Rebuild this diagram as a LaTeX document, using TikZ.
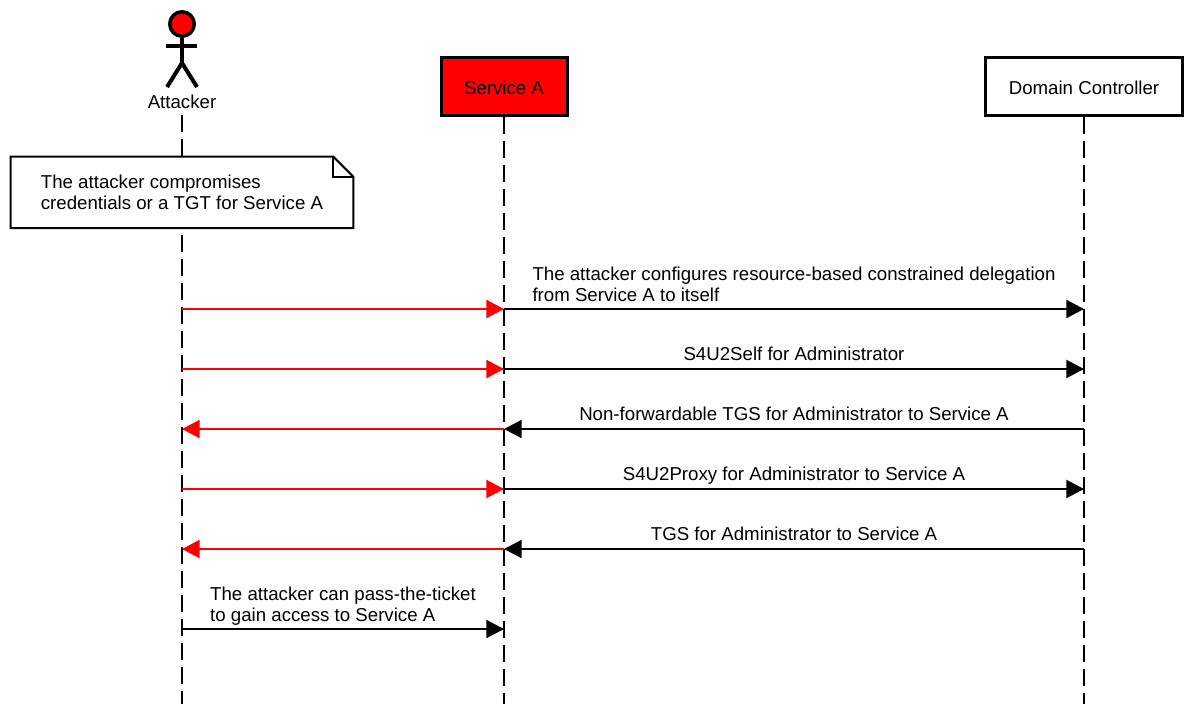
\documentclass[tikz,border=0pt]{standalone}
\usepackage{fontspec}
\setmainfont{Liberation Sans}
\usetikzlibrary{arrows.meta}
\tikzstyle{base}=[font=\fontsize{14}{15.75}\selectfont]
\tikzstyle{service}=[base,draw,line width=2.25pt,minimum height=43.5pt,inner sep=0pt,text height=13pt,text depth=0pt]
\tikzstyle{lifeline}=[draw,line width=1.5pt,dash pattern=on 12.75pt off 5.25pt]
\tikzstyle{limb}=[draw,line width=3pt]
\tikzstyle{message}=[draw,line width=1.5pt,-{Triangle[length=13.25pt,width=13.5pt]}]
\tikzstyle{msglabel}=[base,align=left,anchor=south,inner sep=0pt,text depth=0pt,yshift=6pt]
\tikzstyle{notebox}=[base,fill=white,align=left,inner sep=0pt,minimum width=256.5pt,minimum height=53.25pt]
\tikzstyle{noteline}=[draw,line width=1.5pt,line join=miter]

\begin{document}
\begin{tikzpicture}[x=0.75pt,y=-0.75pt]
    \useasboundingbox (0,0) rectangle (1192,704);

    % First we draw the actor and the two services
    \coordinate (neck) at (182,63);
    \coordinate (armL) at (166,46);
    \coordinate (armR) at (197,46);
    \coordinate (legL) at (167,87);
    \coordinate (legR) at (197,87);
    \node[circle,draw,fill=red,line width=2.6pt,minimum size=18.4pt,inner sep=0pt] (head) at (182,24) {};
    \path[limb] (head) -- (neck);
    \path[limb] (armL) -- (armR);
    \path[limb] (legL) -- (neck) -- (legR);
    \node[base] (attacker) at (182,102.3) {Attacker};
    \node[service,fill=red,minimum width=94.5pt] (serviceA) at (504,86) {Service A};
    \node[service,minimum width=147.75pt] (dc) at (1084,86) {Domain Controller};

    % Lifelines go down to the bottom edge
    \coordinate (attackerTop) at (182,115);
    \coordinate (attackerEnd) at (182,704);
    \coordinate (serviceEnd) at (504,704);
    \coordinate (dcEnd) at (1084,704);
    \path[lifeline] (attackerTop) -- (attackerEnd);
    \path[lifeline] (serviceA.south) -- (serviceEnd);
    \path[lifeline] (dc.south) -- (dcEnd);

    % The note sits on top of the attacker lifeline
    \node[notebox] (note) at (182,192.4) {The attacker compromises\\credentials or a TGT for Service A};
    \path[noteline] (note.north west) -- ([xshift=-15pt]note.north east) -- ([yshift=-15pt]note.north east) -- (note.south east) -- (note.south west) -- cycle;
    \path[noteline] ([xshift=-15pt]note.north east) -- ([xshift=-15pt,yshift=-15pt]note.north east) -- ([yshift=-15pt]note.north east);

    % One row of anchors per message
    \foreach \row/\y in {1/309,2/369,3/429,4/489,5/549,6/629} {
        \coordinate (a\row) at (182,\y);
        \coordinate (s\row) at (504,\y);
        \coordinate (d\row) at (1084,\y);
    }

    % Connect lifelines with messages and draw labels
    \foreach \source/\dest in {a1/s1,a2/s2,s3/a3,a4/s4,s5/a5}
        \path[message,red] (\source) -- (\dest);

    \foreach \source/\dest/\lift/\label in {s1/d1/5.25pt/{The attacker configures resource-based constrained delegation\\from Service A to itself},
        s2/d2/6pt/{S4U2Self for Administrator},
        d3/s3/6pt/{Non-forwardable TGS for Administrator to Service A},
        s4/d4/6pt/{S4U2Proxy for Administrator to Service A},
        d5/s5/6pt/{TGS for Administrator to Service A},
        a6/s6/5.25pt/{The attacker can pass-the-ticket\\to gain access to Service A}}
        \path[message] (\source) -- node[msglabel,yshift=\lift-6pt] {\label} (\dest);
\end{tikzpicture}
\end{document}
